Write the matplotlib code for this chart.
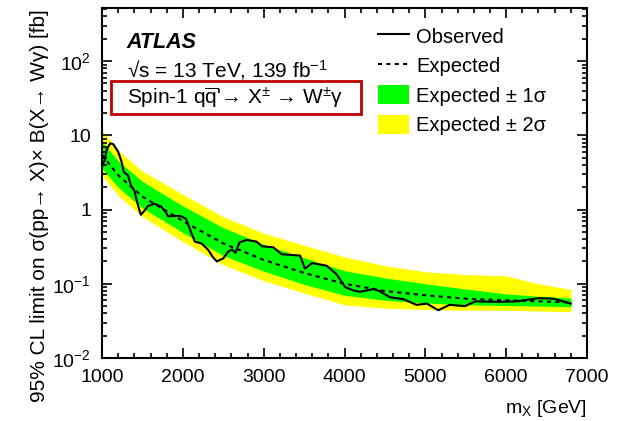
import matplotlib
matplotlib.use("Agg")
import matplotlib.pyplot as plt
from matplotlib.lines import Line2D
from matplotlib.patches import Patch, Rectangle
from matplotlib.ticker import MultipleLocator, FixedLocator, FixedFormatter, LogLocator

plt.rcParams['font.family'] = ['Liberation Sans', 'DejaVu Sans']
plt.rcParams['mathtext.fontset'] = 'custom'
plt.rcParams['mathtext.rm'] = 'Liberation Sans'
plt.rcParams['mathtext.it'] = 'Liberation Sans:italic'
plt.rcParams['mathtext.bf'] = 'Liberation Sans:bold'

# expected limit and bands [fb]
band_mass = [1000, 1200, 1500, 2000, 2500, 3000, 3500, 4000, 4500, 5000, 5500, 6000, 6400, 6800]
expected = [5.5, 2.9, 1.5, 0.70, 0.35, 0.21, 0.14, 0.10, 0.080, 0.070, 0.063, 0.060, 0.058, 0.056]
one_sig_hi = [8.3, 4.5, 2.4, 1.12, 0.57, 0.34, 0.224, 0.15, 0.12, 0.10, 0.085, 0.073, 0.068, 0.064]
one_sig_lo = [3.6, 2.0, 1.05, 0.49, 0.24, 0.148, 0.098, 0.07, 0.06, 0.055, 0.052, 0.051, 0.050, 0.049]
two_sig_hi = [11.7, 6.3, 3.3, 1.6, 0.8, 0.48, 0.33, 0.23, 0.175, 0.145, 0.133, 0.128, 0.10, 0.084]
two_sig_lo = [2.9, 1.55, 0.8, 0.37, 0.18, 0.11, 0.075, 0.052, 0.047, 0.045, 0.044, 0.044, 0.043, 0.042]

# observed limit [fb]
obs_mass = [1000, 1030, 1060, 1100, 1140, 1200, 1240, 1270, 1320, 1360, 1400, 1440, 1480,
            1520, 1570, 1650, 1730, 1780, 1820, 1900, 1970, 2040, 2100, 2150, 2230, 2310,
            2370, 2420, 2500, 2560, 2610, 2650, 2700, 2790, 2910, 2980, 3120, 3220, 3450,
            3510, 3600, 3780, 3900, 4010, 4100, 4190, 4290, 4360, 4440, 4560, 4730, 4890,
            5020, 5160, 5300, 5490, 5620, 5930, 6130, 6400, 6590, 6800]
observed = [3.8, 4.5, 6.5, 7.8, 7.6, 6.0, 4.5, 3.2, 2.9, 2.1, 1.8, 1.2, 0.85,
            0.95, 1.12, 1.2, 1.1, 0.95, 0.81, 0.82, 0.82, 0.75, 0.5, 0.37, 0.35, 0.29,
            0.23, 0.2, 0.22, 0.27, 0.29, 0.26, 0.36, 0.39, 0.37, 0.32, 0.31, 0.25, 0.24,
            0.16, 0.19, 0.175, 0.135, 0.09, 0.082, 0.078, 0.082, 0.085, 0.079, 0.066, 0.062, 0.052,
            0.054, 0.044, 0.052, 0.05, 0.058, 0.057, 0.058, 0.064, 0.063, 0.054]

ytick_vals = [0.01, 0.1, 1, 10, 100]
ytick_labels = [r'$10^{-2}$', r'$10^{-1}$', '1', '10', r'$10^{2}$']

fig = plt.figure(figsize=(6.28, 4.21), dpi=100)
ax = fig.add_axes([102/628, 63/421, 485/628, 350/421])

ax.fill_between(band_mass, two_sig_lo, two_sig_hi, color='#ffff00', lw=0)
ax.fill_between(band_mass, one_sig_lo, one_sig_hi, color='#00ff00', lw=0)
ax.plot(band_mass, expected, color='black', lw=1.5, ls=(0, (2, 2)))
ax.plot(obs_mass, observed, color='black', lw=1.5)

ax.set_yscale('log')
ax.set_xlim(1000, 7000)
ax.set_ylim(0.01, 520)

ax.xaxis.set_major_locator(MultipleLocator(1000))
ax.xaxis.set_minor_locator(MultipleLocator(200))
ax.yaxis.set_major_locator(FixedLocator(ytick_vals))
ax.yaxis.set_major_formatter(FixedFormatter(ytick_labels))
ax.yaxis.set_minor_locator(LogLocator(base=10, subs=range(2, 10)))
ax.yaxis.set_minor_formatter(FixedFormatter([]))

ax.tick_params(which='both', direction='in', top=True, right=True, labelsize=14, width=1.2)
ax.tick_params(which='major', length=7.5, pad=8)
ax.tick_params(which='minor', length=3.8)
for s in ax.spines.values():
    s.set_linewidth(1.5)

ax.set_xlabel(r'm$_{\mathrm{X}}$ [GeV]', fontsize=14, loc='right')
ax.xaxis.set_label_coords(1.0, -0.115)
fig.text(40/628, 1 - 206/421, '95% CL limit on σ(pp→ X)× B(X→ Wγ) [fb]',
         rotation=90, ha='center', va='center', fontsize=15)

fig.text(126/628, 1 - 42/421, 'ATLAS', fontsize=15.5, fontweight='bold', fontstyle='italic',
         ha='left', va='center')
fig.text(127/628, 1 - 70/421, '√s = 13 TeV, 139 fb$^{-1}$', fontsize=15, ha='left', va='center')
fig.text(127/628, 1 - 98/421, r"Spin-1 q$\overline{\mathrm{q}}$'→ X$^{\pm}$ → W$^{\pm}$γ",
         fontsize=15, ha='left', va='center')
fig.patches.append(Rectangle((111/628, 1 - 114/421), 250/628, 33/421, transform=fig.transFigure,
                             fill=False, ec='#c00000', lw=2))

handles = [Line2D([], [], color='black', lw=1.5),
           Line2D([], [], color='black', lw=1.5, ls=(0, (2, 2))),
           Patch(color='#00ff00', lw=0),
           Patch(color='#ffff00', lw=0)]
labels = ['Observed', 'Expected', 'Expected ± 1σ', 'Expected ± 2σ']
fig.legend(handles, labels, loc='upper left', bbox_to_anchor=(378/628, 1 - 26/421),
           frameon=False, fontsize=14.5, handlelength=1.55, handleheight=1.1,
           handletextpad=0.35, labelspacing=0.45, borderpad=0, borderaxespad=0)

fig.savefig('out.png', dpi=100)
